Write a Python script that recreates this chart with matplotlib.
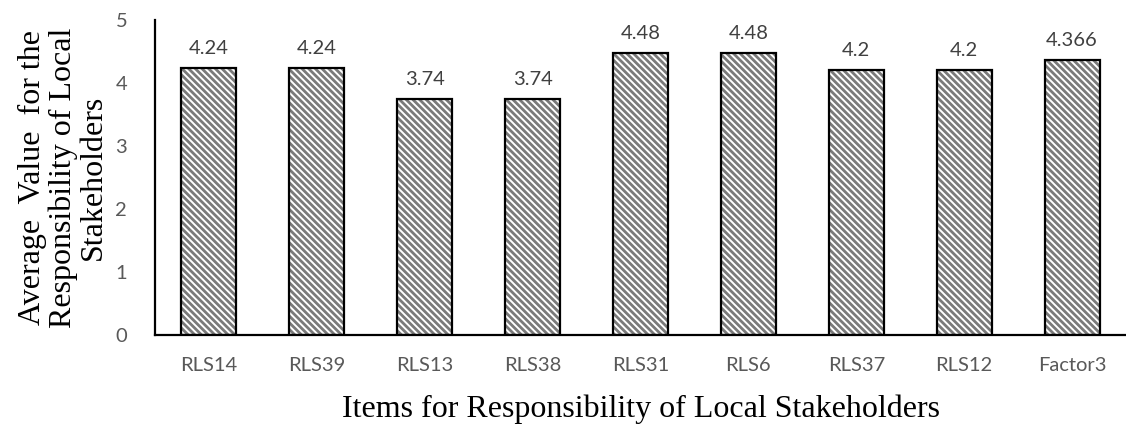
import matplotlib
matplotlib.use("Agg")
import matplotlib.pyplot as plt

categories = ["RLS14", "RLS39", "RLS13", "RLS38", "RLS31", "RLS6", "RLS37", "RLS12", "Factor3"]
values = [4.24, 4.24, 3.74, 3.74, 4.48, 4.48, 4.2, 4.2, 4.366]
value_labels = ["4.24", "4.24", "3.74", "3.74", "4.48", "4.48", "4.2", "4.2", "4.366"]

plt.rcParams["hatch.linewidth"] = 2.0

fig = plt.figure(figsize=(11.26, 4.26), dpi=100)
ax = fig.add_axes([155 / 1126, (426 - 335) / 426, (1126 - 155) / 1126, 315 / 426])

x = list(range(len(categories)))
# hatched fill in gray, then a black outline on top
ax.bar(x, values, width=0.51, color="white", edgecolor="#7a7a7a", hatch="\\" * 5, linewidth=0)
ax.bar(x, values, width=0.51, fill=False, edgecolor="black", linewidth=1.6)

for xi, v, lab in zip(x, values, value_labels):
    ax.annotate(lab, (xi, v), xytext=(0, 8), textcoords="offset points",
                ha="center", va="bottom", fontsize=14.5, color="#404040", family="Lato")

ax.set_xlim(-0.5, len(categories) - 0.5)
ax.set_ylim(0, 5)
ax.set_yticks([0, 1, 2, 3, 4, 5])
ax.set_xticks(x)
ax.set_xticklabels(categories)

for lbl in ax.get_xticklabels() + ax.get_yticklabels():
    lbl.set_family("Lato")
    lbl.set_fontsize(14.5)
    lbl.set_color("#595959")

ax.tick_params(axis="x", length=0, pad=16)
ax.tick_params(axis="y", length=0, pad=20)

for side in ("top", "right"):
    ax.spines[side].set_visible(False)
ax.spines["left"].set_linewidth(1.6)
ax.spines["bottom"].set_linewidth(1.6)

ax.set_ylabel("Average  Value  for the\nResponsibility of Local\nStakeholders",
              family="Liberation Serif", fontsize=23, linespacing=1.05)
ax.yaxis.set_label_coords(-(155 - 108) / (1126 - 155), 0.5)
ax.set_xlabel("Items for Responsibility of Local Stakeholders",
              family="Liberation Serif", fontsize=23, va="top")
ax.xaxis.set_label_coords(0.5, -0.19)

fig.savefig("out.png", dpi=100)
